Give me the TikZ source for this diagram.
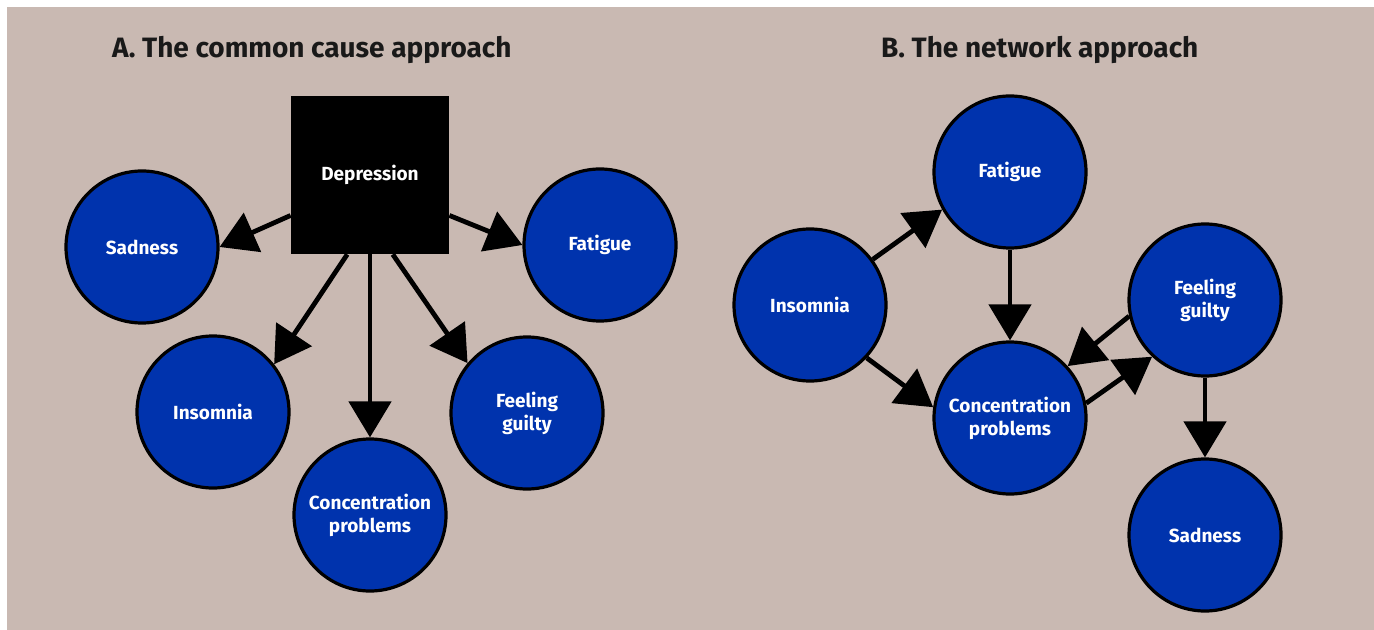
\documentclass[tikz,border=0pt]{standalone}
\usepackage{fontspec}
\setmainfont{Fira Sans}
\usetikzlibrary{arrows.meta,positioning}
\definecolor{backdrop}{RGB}{201,185,178}
\definecolor{symptomblue}{RGB}{0,51,173}

\begin{document}
\begin{tikzpicture}[x=0.5pt, y=-0.5pt, >={Triangle[length=18pt,width=21pt]},
  font=\bfseries\fontsize{9.5}{11.5}\selectfont,
  symptom/.style={circle,draw=black,line width=1.6pt,fill=symptomblue,text=white,minimum size=76pt,inner sep=0pt,align=center},
  cause/.style={rectangle,fill=black,text=white,minimum size=79pt,inner sep=0pt},
  heading/.style={anchor=west,text=black!90,font=\bfseries\fontsize{14}{17}\selectfont},
  link/.style={->,line width=2.4pt}]
\useasboundingbox (0,0) rectangle (1374,630);
\fill[white] (0,0) rectangle (1374,630);
\fill[backdrop] (7,7) rectangle (1374,630);

% A. common cause
\node(titleA)[heading] at (105,50) {A. The common cause approach};
\node(dep)[cause] at (370,175) {Depression};
\node(sadA)[symptom] at (142,247) {Sadness};
\node(fatA)[symptom] at (600,245) {Fatigue};
\node(insA)[symptom] at (213,412) {Insomnia};
\node(conA)[symptom,below of=dep,node distance=170pt] {Concentration\\problems};
\node(guiA)[symptom] at (527,413) {Feeling\\guilty};

\draw[link] (dep.207) -- (sadA.east);
\draw[link] (dep.-27) -- (fatA.west);
\draw[link] (dep.254) -- (insA.38);
\draw[link] (dep.south) -- (conA.north);
\draw[link] (dep.286) -- (guiA.140);

% B. network
\node(titleB)[heading] at (874,50) {B. The network approach};
\node(fatB)[symptom] at (1010,172) {Fatigue};
\node(insB)[symptom] at (810,305) {Insomnia};
\node(conB)[symptom,below of=fatB,node distance=123pt] {Concentration\\problems};
\node(guiB)[symptom] at (1205,300) {Feeling\\guilty};
\node(sadB)[symptom,below of=guiB,node distance=117.5pt] {Sadness};

\draw[link] (insB.36) -- (fatB.209);
\draw[link] (fatB.south) -- (conB.north);
\draw[link] (insB.-43) -- (conB.172);
\draw[link] (guiB.192) -- (conB.42);
\draw[link] (conB.11) -- (guiB.227);
\draw[link] (guiB.south) -- (sadB.north);
\end{tikzpicture}
\end{document}
